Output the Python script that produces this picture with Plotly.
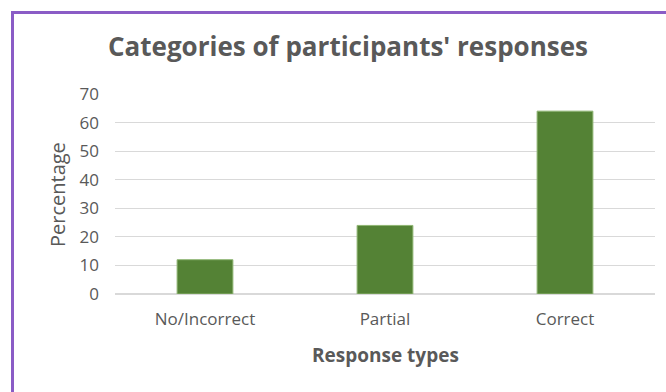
import plotly.graph_objects as go

categories = ["No/Incorrect", "Partial", "Correct"]
values = [12, 24, 64]
y_ticks = [0, 10, 20, 30, 40, 50, 60, 70]

W, H = 666, 392
L, R, T, B = 115, 11, 94, 98
pw, ph = W - L - R, H - T - B

def px_to_paper_x(px):
    return (px - L) / pw

def px_to_paper_y(py):
    return (H - B - py) / ph

FONT = "Open Sans"
GRAY = "#595959"

fig = go.Figure()
fig.add_trace(go.Bar(
    x=categories, y=values, width=0.31,
    marker=dict(color="#548235", line=dict(color="#8fb573", width=1)),
    hoverinfo="skip",
))

fig.update_layout(
    width=W, height=H,
    margin=dict(l=L, r=R, t=T, b=B),
    paper_bgcolor="white", plot_bgcolor="white",
    showlegend=False,
    font=dict(family=FONT, color=GRAY, size=17),
    title=dict(
        text="<b>Categories of participants' responses</b>",
        x=px_to_paper_x(348), xref="paper", xanchor="center",
        y=1 - 47 / H, yref="container", yanchor="middle",
        font=dict(family=FONT, size=26, color=GRAY),
    ),
    xaxis=dict(
        showgrid=False, showline=False, zeroline=False,
        ticks="", ticklabelstandoff=13,
        tickfont=dict(family=FONT, size=17, color=GRAY),
        range=[-0.5, 2.5],
    ),
    yaxis=dict(
        range=[0, 70], tickvals=y_ticks,
        showgrid=True, gridcolor="#d9d9d9", gridwidth=1,
        zeroline=True, zerolinecolor="#d9d9d9", zerolinewidth=1.5,
        showline=False, ticks="", ticklabelstandoff=15,
        tickfont=dict(family=FONT, size=17, color=GRAY),
    ),
    annotations=[
        dict(text="Percentage", textangle=-90, x=px_to_paper_x(57), y=px_to_paper_y(195),
             xref="paper", yref="paper", showarrow=False, xanchor="center", yanchor="middle",
             font=dict(family=FONT, size=20, color=GRAY)),
        dict(text="<b>Response types</b>", x=px_to_paper_x(385), y=px_to_paper_y(355),
             xref="paper", yref="paper", showarrow=False, xanchor="center", yanchor="middle",
             font=dict(family=FONT, size=19, color=GRAY)),
    ],
    shapes=[
        dict(type="rect", xref="paper", yref="paper",
             x0=px_to_paper_x(12.5), x1=px_to_paper_x(680),
             y0=px_to_paper_y(410), y1=px_to_paper_y(12.5),
             line=dict(color="#8a5cc6", width=3), fillcolor="rgba(0,0,0,0)", layer="above"),
    ],
)

fig.write_html("out.html")
